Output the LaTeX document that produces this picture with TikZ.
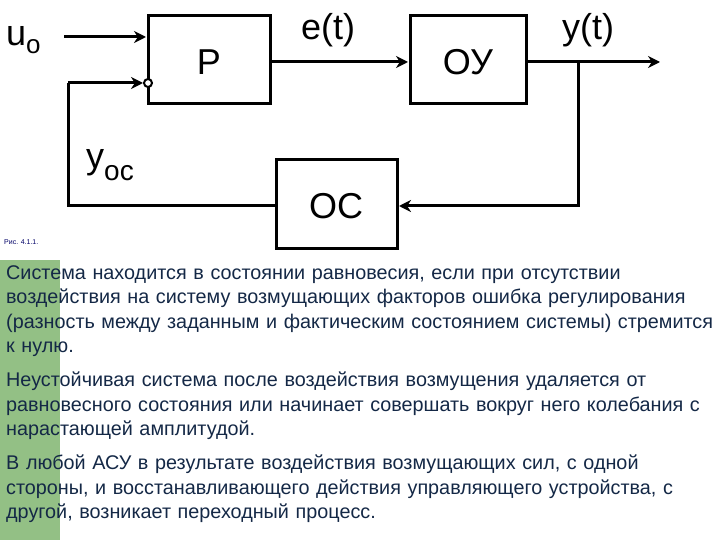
\documentclass[tikz,border=0pt]{standalone}
\usepackage{fontspec}
\setmainfont{Liberation Sans}
\usetikzlibrary{arrows.meta}
\begin{document}
\begin{tikzpicture}[x=1pt,y=-1pt,
  blk/.style={draw,line width=3pt,minimum width=0pt},
  wire/.style={line width=3pt},
  arr/.style={wire,-{Stealth[length=12pt,width=12pt]}},
  lbl/.style={font=\fontsize{36}{36}\selectfont,inner sep=0pt},
  para/.style={anchor=north west,inner sep=0pt,text width=715pt,align=left,
    font=\fontsize{19.8}{24.5}\selectfont,text={rgb,255:red,20;green,40;blue,70}}]
\useasboundingbox (0,0) rectangle (720,540);
\fill[fill={rgb,255:red,147;green,192;blue,133}] (0,260) rectangle (60,540);
% blocks
\draw[blk] (148,16) rectangle (270,104);
\node[lbl] (P) at (209,62) {Р};
\draw[blk] (410,16) rectangle (526,104);
\node[lbl] (OU) at (468,62) {ОУ};
\draw[blk] (276,160) rectangle (397,248);
\node[lbl] (OC) at (336,206) {ОС};
\coordinate (pin1) at (146,37);
\coordinate (pin2) at (143,83);
\coordinate (pout) at (270,62);
\coordinate (ouin) at (408,62);
\coordinate (ouout) at (526,62);
\coordinate (yend) at (660,62);
\coordinate (br) at (578,62);
\coordinate (ocin) at (399,206);
\coordinate (ocout) at (276,206);
\coordinate (ll) at (68,206);
\coordinate (ul) at (68,83);
\node[lbl,anchor=west] (u0) at (6,40) {u\raisebox{-8pt}{\fontsize{26}{26}\selectfont o}};
\draw[arr] (64,37) -- (pin1);
\draw[arr] (pout) -- (ouin);
\draw[arr] (ouout) -- (yend);
\draw[arr] (br) |- (ocin);
\draw[wire] (ocout) -- (ll) -- (ul);
\draw[arr] (ul) -- (pin2);
\draw[line width=2pt,fill=white] (148,83) circle (4pt);
\node[lbl] (et) at (328,30) {e(t)};
\node[lbl] (yt) at (588,30) {y(t)};
\node[lbl,anchor=west] (yoc) at (86,165) {y\raisebox{-12pt}{\fontsize{28}{28}\selectfont oc}};
\node[anchor=west,inner sep=0pt,font=\fontsize{7}{7}\selectfont,text=blue!40!black] (cap) at (4,242) {Рис. 4.1.1.};
\node[para] (t1) at (6,265)
  {Система находится в состоянии равновесия, если при отсутствии\\
   воздействия на систему возмущающих факторов ошибка регулирования\\
   (разность между заданным и фактическим состоянием системы) стремится\\
   к нулю.};
\node[para] (t2) at (6,372)
  {Неустойчивая система после воздействия возмущения удаляется от\\
   равновесного состояния или начинает совершать вокруг него колебания с\\
   нарастающей амплитудой.};
\node[para] (t3) at (6,455)
  {В любой АСУ в результате воздействия возмущающих сил, с одной\\
   стороны, и восстанавливающего действия управляющего устройства, с\\
   другой, возникает переходный процесс.};
\end{tikzpicture}
\end{document}
